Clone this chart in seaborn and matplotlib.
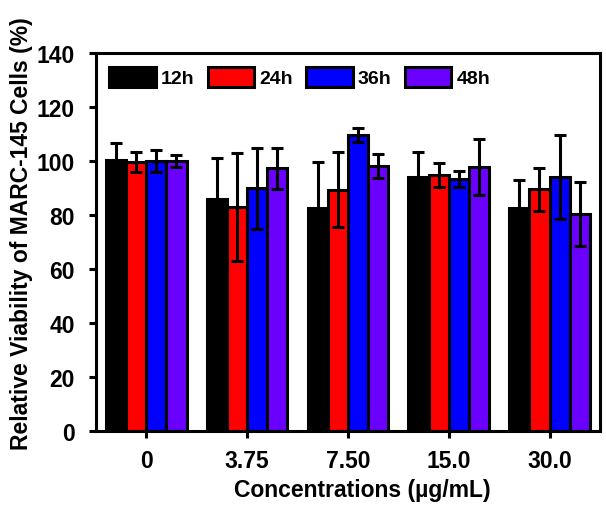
import numpy as np
import pandas as pd
import matplotlib
matplotlib.use('Agg')
import matplotlib.pyplot as plt
import seaborn as sns

# --- Data ---
concentrations = ['0', '3.75', '7.50', '15.0', '30.0']
times = ['12h', '24h', '36h', '48h']

viability_12h = [100.2, 86.0, 82.6, 94.2, 82.6]
viability_24h = [99.7, 83.0, 89.4, 94.8, 89.6]
viability_36h = [100.0, 90.0, 109.7, 93.3, 94.0]
viability_48h = [100.0, 97.4, 98.2, 97.9, 80.4]

sd_12h = [6.3, 15.0, 17.0, 9.3, 10.5]
sd_24h = [3.7, 20.0, 14.0, 4.4, 8.0]
sd_36h = [4.0, 15.0, 2.5, 3.0, 15.6]
sd_48h = [2.3, 7.6, 4.5, 10.4, 12.0]

colors = ['#000000', '#ff0000', '#0000ff', '#6a00ff']

# Build long-form table for seaborn
values = [viability_12h, viability_24h, viability_36h, viability_48h]
errors = [sd_12h, sd_24h, sd_36h, sd_48h]
rows = []
for t, vals, errs in zip(times, values, errors):
    for c, v, e in zip(concentrations, vals, errs):
        rows.append({'Concentration': c, 'Time': t, 'Viability': v, 'SD': e})
df = pd.DataFrame(rows)

sns.set_style('ticks')
plt.rcParams['font.family'] = ['Liberation Sans', 'DejaVu Sans']
plt.rcParams['font.weight'] = 'bold'
# everything in pure black like the original
for key in ['text.color', 'axes.labelcolor', 'xtick.color', 'ytick.color', 'axes.edgecolor']:
    plt.rcParams[key] = 'black'

fig = plt.figure(figsize=(6.06, 5.10), dpi=100)
ax = fig.add_axes([0.158, 0.153, 0.832, 0.741])

sns.barplot(data=df, x='Concentration', y='Viability', hue='Time',
            order=concentrations, hue_order=times, palette=colors,
            errorbar=None, width=0.8, edgecolor='black', linewidth=2.2,
            saturation=1, ax=ax)

# Error bars (upper + lower) at the centre of each bar drawn by seaborn
for container, errs in zip(ax.containers, errors):
    for patch, e in zip(container.patches, errs):
        xc = patch.get_x() + patch.get_width() / 2
        ax.errorbar(xc, patch.get_height(), yerr=e, fmt='none',
                    ecolor='black', elinewidth=2.2, capsize=4, capthick=2.2,
                    zorder=1)

ax.set_ylim(0, 140)
ax.set_xlim(-0.5, 4.5)
ax.set_yticks(range(0, 141, 20))

for side in ['left', 'right', 'top', 'bottom']:
    ax.spines[side].set_visible(True)
    ax.spines[side].set_linewidth(2.2)
ax.tick_params(axis='both', width=2.2, length=5, labelsize=16.5)
ax.tick_params(axis='y', pad=10)
ax.tick_params(axis='x', pad=8)

ax.set_xlabel('Concentrations (µg/mL)', fontsize=16.5, fontweight='bold')
ax.set_ylabel('Relative Viability of MARC-145 Cells (%)', fontsize=16.5,
              fontweight='bold')
ax.xaxis.set_label_coords(0.529, -0.125)
ax.yaxis.set_label_coords(-0.125, 0.524)

leg = ax.legend(loc='upper left', ncol=4, frameon=False,
                handlelength=2.4, handleheight=1.2, handletextpad=0.26,
                columnspacing=0.67, borderaxespad=0.4, borderpad=0.3,
                prop={'weight': 'bold', 'size': 14})
for h in leg.legend_handles:
    h.set_edgecolor('black')
    h.set_linewidth(2.2)

fig.savefig('out.png', dpi=100)
